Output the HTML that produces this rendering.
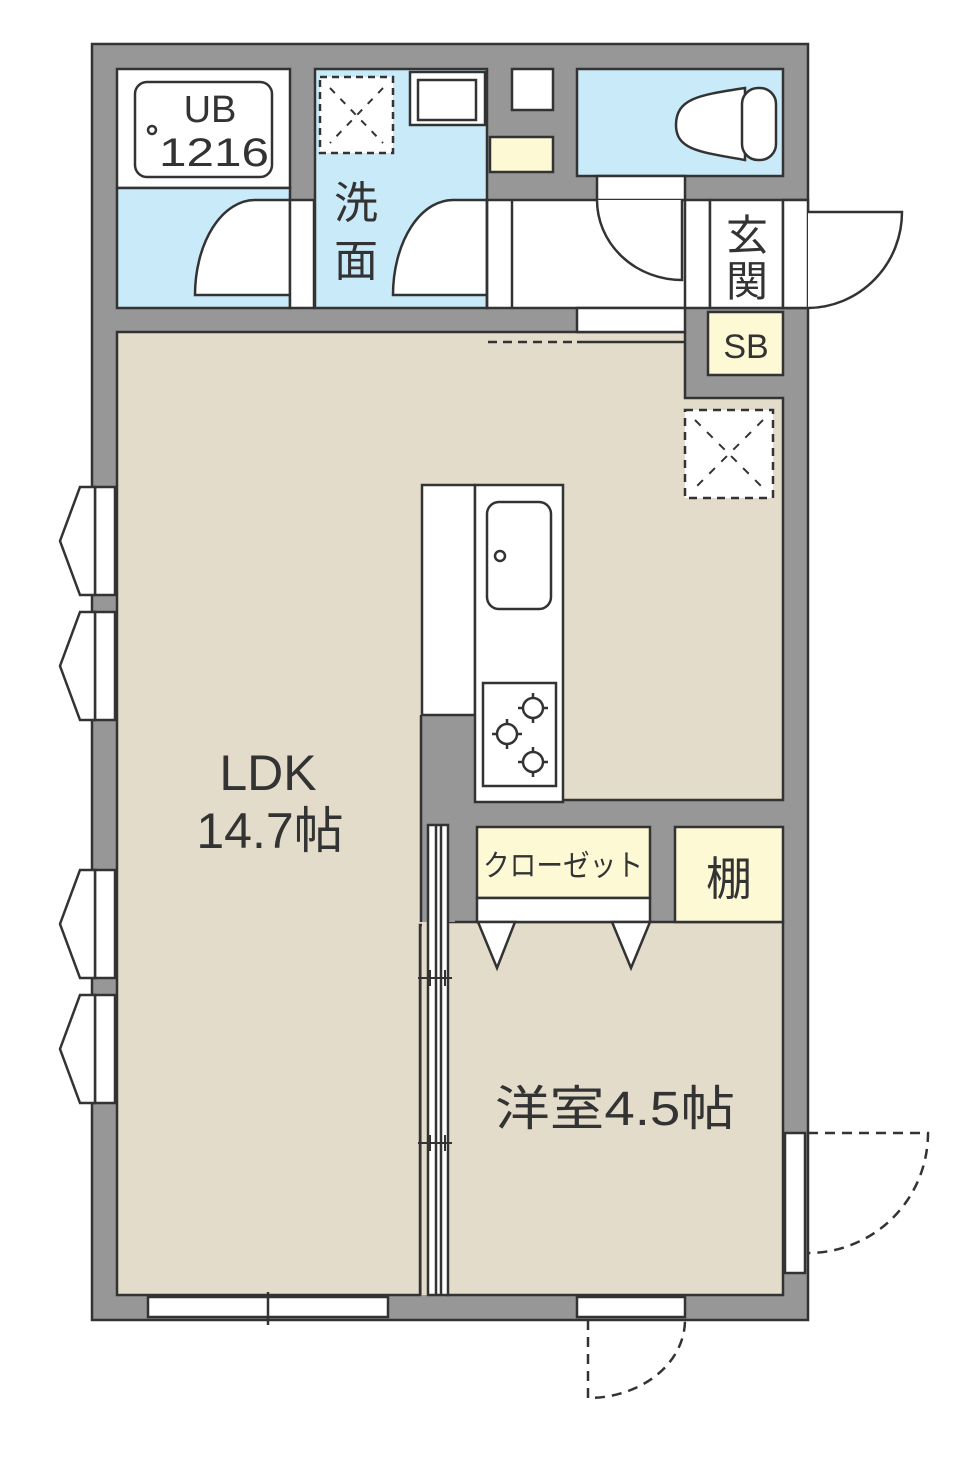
<!DOCTYPE html>
<html><head><meta charset="utf-8"><style>
html,body{margin:0;padding:0;background:#fff;width:960px;height:1457px;overflow:hidden}
svg{display:block}
text{font-family:"Liberation Sans","Noto Sans CJK JP",sans-serif;fill:#333}
</style></head><body>
<svg width="960" height="1457" viewBox="0 0 960 1457" xmlns="http://www.w3.org/2000/svg">
<g stroke="#333" stroke-width="2.5">
<rect x="92" y="44" width="716" height="1276" fill="#979797"/>
<path d="M117 332 H685 V398 H783 V800 H447 V925 H420 V1295 H117 Z" fill="#e3dccb"/>
<rect x="447" y="922" width="336" height="373" fill="#e3dccb"/>
<rect x="117" y="69" width="173" height="119" fill="#fff"/>
<rect x="117" y="188" width="173" height="120" fill="#c9eaf8"/>
<rect x="135" y="82" width="137" height="95" rx="12" fill="#fff"/>
<circle cx="152" cy="130" r="4" fill="#fff"/>
<path d="M290 200 H255 A60 95 0 0 0 195 295 H290 Z" fill="#fff"/>
<rect x="290" y="200" width="24" height="108" fill="#fff"/>
<rect x="315" y="69" width="172" height="239" fill="#c9eaf8"/>
<rect x="320" y="77" width="73" height="76" fill="#fff" stroke-dasharray="7 5"/>
<path d="M330 88 L383 143 M383 88 L330 143" stroke-dasharray="7 8" stroke-width="2"/>
<rect x="410" y="72" width="75" height="53" fill="#fff"/>
<rect x="418" y="80" width="58" height="40" fill="#fff"/>
<path d="M487 200 H455 A60 95 0 0 0 393 295 H487 Z" fill="#fff"/>
<rect x="487" y="200" width="223" height="108" fill="#fff"/>
<line x1="512" y1="200" x2="512" y2="308"/>
<line x1="487" y1="200" x2="487" y2="308"/>
<rect x="512" y="69" width="41" height="41" fill="#fff"/>
<rect x="490" y="137" width="63" height="35" fill="#fdf9d4"/>
<rect x="577" y="69" width="206" height="107" fill="#c9eaf8"/>
<path d="M745 88 C700 95 676 98 676 125 C676 150 700 152 745 160 Z" fill="#fff"/>
<rect x="742" y="88" width="34" height="72" rx="16" fill="#fff"/>
<rect x="597" y="176" width="88" height="24" fill="#fff"/>
<path d="M597 200 A85 80 0 0 0 682 280 V200" fill="#fff"/>
<line x1="685" y1="200" x2="685" y2="308"/>
<rect x="710" y="200" width="73" height="108" fill="#fff"/>
<line x1="783" y1="200" x2="808" y2="200"/><line x1="783" y1="308" x2="808" y2="308"/>
<rect x="783" y="200" width="25" height="108" fill="#fff"/>
<path d="M808 212 H902 A95 96 0 0 1 808 308" fill="#fff"/>
<rect x="577" y="308" width="108" height="24" fill="#fff"/>
<rect x="708" y="312" width="75" height="63" fill="#fdf9d4"/>
<line x1="488" y1="342" x2="577" y2="342" stroke-dasharray="9 6"/>
<line x1="577" y1="342" x2="685" y2="342"/>
<rect x="685" y="410" width="88" height="88" fill="#fff" stroke-dasharray="8 6"/>
<path d="M695 420 L763 488 M763 420 L695 488" stroke-dasharray="8 9" stroke-width="2"/>
<!-- kitchen -->
<rect x="421" y="715" width="54" height="110" fill="#979797" stroke="none"/>
<line x1="421" y1="715" x2="421" y2="825"/>
<rect x="422" y="485" width="53" height="230" fill="#fff"/>
<rect x="475" y="485" width="88" height="317" fill="#fff"/>
<rect x="487" y="502" width="64" height="107" rx="12" fill="#fff"/>
<circle cx="500" cy="556" r="5" fill="#fff"/>
<rect x="483" y="683" width="73" height="103" fill="#fff"/>
<g fill="none" stroke-width="2.5">
<circle cx="533" cy="708" r="10"/><circle cx="507" cy="734" r="10"/><circle cx="533" cy="762" r="10"/>
<path d="M533 693v6M533 717v6M518 708h6M542 708h6M507 719v6M507 743v6M492 734h6M516 734h6M533 747v6M533 771v6M518 762h6M542 762h6"/>
</g>
<rect x="477" y="827" width="173" height="71" fill="#fdf9d4"/>
<rect x="477" y="898" width="173" height="24" fill="#fff"/>
<rect x="675" y="827" width="108" height="95" fill="#fdf9d4"/>
<path d="M478 922 L515 922 L497 968 Z M612 922 L650 922 L631 968 Z" fill="#fff"/>
<rect x="421" y="825" width="34" height="97" fill="#979797" stroke="none"/>
<line x1="421" y1="825" x2="421" y2="922"/>
<rect x="422" y="922" width="25" height="373" fill="#e3dccb" stroke="none"/>
<rect x="428" y="825" width="20" height="470" fill="#fff"/>
<line x1="436" y1="825" x2="436" y2="1295"/><line x1="441" y1="825" x2="441" y2="1295"/>
<path d="M418 978h34M430 970v16M445 970v16M418 1143h34M430 1135v16M445 1135v16" stroke-width="2"/>
<g fill="#fff">
<rect x="95" y="487" width="20" height="108"/><path d="M95 487 H80 L60 541 L80 595 H95 Z"/>
<rect x="95" y="612" width="20" height="108"/><path d="M95 612 H80 L60 666 L80 720 H95 Z"/>
<rect x="95" y="870" width="20" height="108"/><path d="M95 870 H80 L60 924 L80 978 H95 Z"/>
<rect x="95" y="995" width="20" height="108"/><path d="M95 995 H80 L60 1049 L80 1103 H95 Z"/>
</g>
<rect x="148" y="1297" width="240" height="20" fill="#fff"/>
<line x1="268" y1="1292" x2="268" y2="1325"/>
<rect x="577" y="1297" width="108" height="20" fill="#fff"/>
<path d="M588 1320 V1398 A97 78 0 0 0 685 1320" fill="none" stroke-dasharray="10 7"/>
<rect x="785" y="1133" width="20" height="140" fill="#fff"/>
<path d="M808 1133 H928 A120 120 0 0 1 808 1253" fill="none" stroke-dasharray="10 7"/>
</g>
<g>
<text x="210" y="122" font-size="38" text-anchor="middle">UB</text>
<text x="214" y="166" font-size="40" text-anchor="middle" textLength="110" lengthAdjust="spacingAndGlyphs">1216</text>
<text x="356" y="218" font-size="44" text-anchor="middle">洗</text>
<text x="356" y="276" font-size="44" text-anchor="middle">面</text>
<text x="747" y="250" font-size="42" text-anchor="middle">玄</text>
<text x="747" y="296" font-size="42" text-anchor="middle">関</text>
<text x="746" y="358" font-size="34" text-anchor="middle">SB</text>
<text x="268" y="790" font-size="50" text-anchor="middle">LDK</text>
<text x="270" y="848" font-size="50" text-anchor="middle">14.7帖</text>
<text x="563" y="876" font-size="30" text-anchor="middle" textLength="160" lengthAdjust="spacingAndGlyphs">クローゼット</text>
<text x="729" y="895" font-size="46" text-anchor="middle">棚</text>
<text x="615" y="1125" font-size="48" text-anchor="middle" textLength="240" lengthAdjust="spacingAndGlyphs">洋室4.5帖</text>
</g>
</svg>
</body></html>
